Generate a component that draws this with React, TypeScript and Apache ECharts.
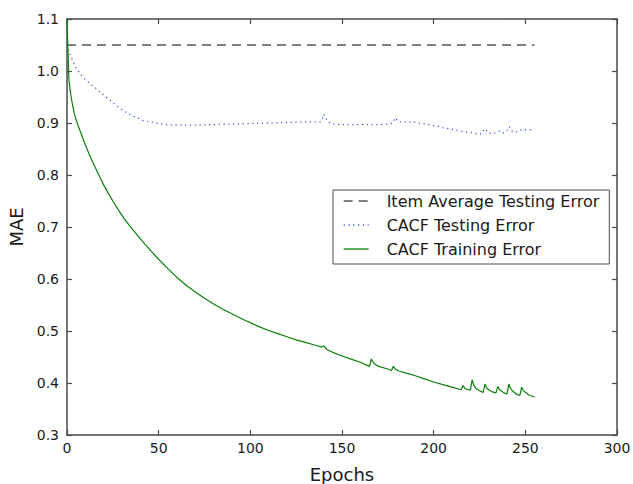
import React, { useEffect, useRef } from "react";
import * as echarts from "echarts";

const xTicks = [0, 50, 100, 150, 200, 250, 300];
const yTicks = [0.3, 0.4, 0.5, 0.6, 0.7, 0.8, 0.9, 1.0, 1.1];

const avgEpochs = [0, 255];
const avgMae = [1.05, 1.05];

const testEpochs = [0, 1, 2, 3, 4, 5, 7, 9, 11, 13, 15, 17, 19, 21, 23, 25, 27, 29, 31, 34, 36, 39, 41, 44, 47, 50, 54, 60, 70, 80, 90, 100, 110, 120, 130, 138, 139, 140, 141, 142, 144, 150, 160, 170, 176, 178, 179, 181, 189, 192, 197, 202, 205, 210, 213, 216, 220, 222, 224, 226, 227, 228, 230, 232, 235, 236, 238, 240, 241, 242, 243, 246, 248, 250, 255];
const testMae = [1.06, 1.04, 1.028, 1.021, 1.013, 1.006, 0.995, 0.987, 0.981, 0.974, 0.969, 0.963, 0.957, 0.951, 0.945, 0.939, 0.933, 0.928, 0.923, 0.917, 0.913, 0.909, 0.905, 0.903, 0.901, 0.899, 0.897, 0.896, 0.896, 0.897, 0.898, 0.899, 0.9, 0.901, 0.902, 0.902, 0.906, 0.917, 0.91, 0.904, 0.898, 0.897, 0.897, 0.897, 0.898, 0.901, 0.91, 0.902, 0.902, 0.9, 0.897, 0.894, 0.891, 0.888, 0.886, 0.883, 0.882, 0.881, 0.878, 0.879, 0.885, 0.889, 0.881, 0.879, 0.883, 0.885, 0.881, 0.885, 0.893, 0.89, 0.883, 0.883, 0.887, 0.887, 0.887];

const trainEpochs = [0, 1, 2, 3, 4, 5, 6, 7, 8, 9, 10, 12, 14, 16, 18, 20, 22, 25, 28, 31, 34, 37, 40, 43, 46, 50, 55, 60, 65, 70, 75, 80, 85, 90, 95, 100, 105, 110, 115, 120, 125, 130, 135, 139, 140, 142, 145, 150, 155, 160, 165, 166, 167, 168, 170, 175, 177, 178, 179, 181, 185, 190, 195, 200, 205, 210, 215, 216, 217, 218, 220, 221, 222, 223, 225, 227, 228, 229, 230, 232, 234, 235, 236, 237, 239, 240, 241, 242, 243, 245, 247, 248, 249, 250, 252, 255];
const trainMae = [1.1, 0.985, 0.955, 0.935, 0.918, 0.906, 0.896, 0.886, 0.877, 0.867, 0.858, 0.841, 0.825, 0.81, 0.795, 0.781, 0.768, 0.75, 0.733, 0.717, 0.703, 0.69, 0.677, 0.665, 0.653, 0.638, 0.62, 0.603, 0.588, 0.575, 0.563, 0.552, 0.542, 0.533, 0.524, 0.516, 0.508, 0.501, 0.495, 0.489, 0.483, 0.478, 0.473, 0.469, 0.4715, 0.464, 0.459, 0.452, 0.446, 0.44, 0.432, 0.446, 0.44, 0.436, 0.432, 0.427, 0.424, 0.432, 0.427, 0.423, 0.419, 0.414, 0.408, 0.402, 0.397, 0.392, 0.387, 0.395, 0.39, 0.388, 0.386, 0.406, 0.395, 0.39, 0.385, 0.382, 0.398, 0.39, 0.387, 0.383, 0.381, 0.393, 0.387, 0.384, 0.38, 0.379, 0.398, 0.389, 0.385, 0.379, 0.376, 0.392, 0.385, 0.382, 0.377, 0.373];

const pairs = (xs: number[], ys: number[]) => xs.map((x, i) => [x, ys[i]]);

const FONT = "DejaVu Sans";
const FRAME = "#4a4a4a";

export default function App() {
  const ref = useRef<HTMLDivElement>(null);
  useEffect(() => {
    if (!ref.current) return;
    const chart = echarts.init(ref.current, undefined, { renderer: "svg" });
    const frameAxis = {
      axisLine: { show: true, onZero: false, lineStyle: { color: FRAME, width: 1.5 } },
      axisTick: { show: true, inside: true, length: 5, lineStyle: { color: FRAME, width: 1.2 } },
      splitLine: { show: false },
    };
    chart.setOption({
      animation: false,
      backgroundColor: "#ffffff",
      textStyle: { fontFamily: FONT },
      grid: { left: 67, right: 16, top: 19, bottom: 49, containLabel: false, outerBoundsMode: "none" },
      legend: {
        orient: "vertical",
        left: 333,
        top: 190,
        padding: [3, 10, 7, 10],
        itemGap: 8,
        itemWidth: 25,
        itemHeight: 16,
        backgroundColor: "#ffffff",
        borderColor: FRAME,
        borderWidth: 1,
        borderRadius: 0,
        itemStyle: { opacity: 0 },
        lineStyle: { width: 1.3 },
        textStyle: { fontFamily: FONT, fontSize: 16, color: "#1a1a1a", padding: [0, 0, 0, 13] },
        data: ["Item Average Testing Error", "CACF Testing Error", "CACF Training Error"],
      },
      xAxis: [
        {
          type: "value",
          min: 0,
          max: 300,
          interval: 50,
          position: "bottom",
          name: "Epochs",
          nameLocation: "middle",
          nameGap: 30,
          nameTextStyle: { fontFamily: FONT, fontSize: 18, color: "#1a1a1a" },
          axisLabel: {
            fontFamily: FONT,
            fontSize: 14,
            color: "#1a1a1a",
            margin: 6,
            formatter: (v: number) => (xTicks.includes(v) ? String(v) : ""),
          },
          ...frameAxis,
        },
        {
          type: "value",
          min: 0,
          max: 300,
          interval: 50,
          position: "top",
          axisLabel: { show: false },
          ...frameAxis,
        },
      ],
      yAxis: [
        {
          type: "value",
          min: 0.3,
          max: 1.1,
          interval: 0.1,
          position: "left",
          name: "MAE",
          nameLocation: "middle",
          nameGap: 40,
          nameTextStyle: { fontFamily: FONT, fontSize: 18, color: "#1a1a1a" },
          axisLabel: {
            fontFamily: FONT,
            fontSize: 14,
            color: "#1a1a1a",
            margin: 8,
            formatter: (v: number) => {
              const t = yTicks.find((y) => Math.abs(y - v) < 1e-6);
              return t === undefined ? "" : t.toFixed(1);
            },
          },
          ...frameAxis,
        },
        {
          type: "value",
          min: 0.3,
          max: 1.1,
          interval: 0.1,
          position: "right",
          axisLabel: { show: false },
          ...frameAxis,
        },
      ],
      series: [
        {
          name: "Item Average Testing Error",
          type: "line",
          data: pairs(avgEpochs, avgMae),
          showSymbol: false,
          symbol: "none",
          lineStyle: { color: "#555555", width: 1.7, type: [9, 6] },
          itemStyle: { color: "#555555" },
        },
        {
          name: "CACF Testing Error",
          type: "line",
          data: pairs(testEpochs, testMae),
          showSymbol: false,
          symbol: "none",
          lineStyle: { color: "#3a55d8", width: 1.3, type: [1.2, 3.6] },
          itemStyle: { color: "#3a55d8" },
        },
        {
          name: "CACF Training Error",
          type: "line",
          data: pairs(trainEpochs, trainMae),
          showSymbol: false,
          symbol: "none",
          lineStyle: { color: "#0a800a", width: 1.2 },
          itemStyle: { color: "#0a800a" },
        },
      ],
    });
    return () => chart.dispose();
  }, []);
  return (
    <div
      ref={ref}
      style={{ position: "fixed", left: 0, top: 0, width: 633, height: 484, background: "#fff" }}
    />
  );
}
